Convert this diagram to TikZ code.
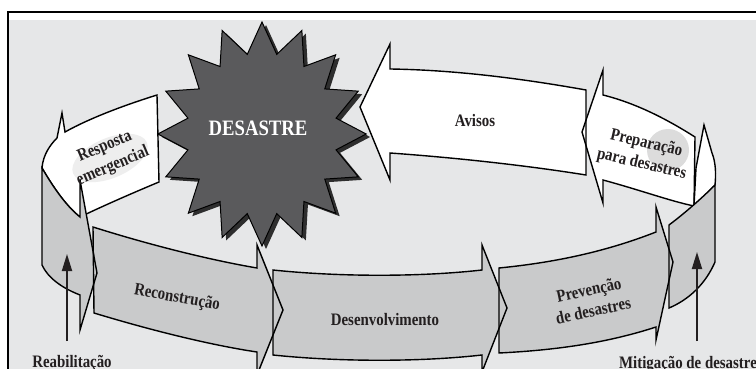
\documentclass[tikz,border=0pt]{standalone}
\usepackage{fontspec}
\setmainfont{Liberation Serif}[FakeStretch=0.85]
\usetikzlibrary{shapes.geometric,arrows.meta}
\definecolor{bgc}{HTML}{E6E7E8}
\definecolor{grayarrow}{HTML}{C9CACB}
\definecolor{starc}{HTML}{5A5A5C}
\definecolor{shadowc}{HTML}{2E2E2E}
\definecolor{txtc}{HTML}{231F20}
\definecolor{smudge}{HTML}{DCDCDC}
\definecolor{smudgeb}{HTML}{EEEEEE}
\def\PathAvisos{(586,90) .. controls (530,80) and (460,70) .. (390,69) -- (390,44) -- (360,107) -- (390,180) -- (390,153) .. controls (460,158) and (530,166) .. (586,175) -- cycle}
\def\PathPrep{(695,137) .. controls (665,118) and (635,103) .. (603,95) -- (603,70) -- (582,132) -- (603,203) -- (603,180) .. controls (640,190) and (670,201) .. (694,206) -- cycle}
\def\PathRwhite{(704,125) -- (712,153) .. controls (716,163) and (716,175) .. (715,185) .. controls (708,193) and (700,200) .. (694,206) -- (696,168) -- cycle}
\def\PathResp{(157,95) .. controls (125,105) and (90,118) .. (65,132) -- (62,113) -- (57,138) .. controls (50,145) and (43,155) .. (42,168) .. controls (52,185) and (65,205) .. (80,217) .. controls (105,205) and (135,192) .. (159,182) -- cycle}
\def\PathLgray{(42,168) .. controls (52,185) and (65,205) .. (80,217) -- (80,180) -- (97,273) -- (80,330) -- (80,295) .. controls (62,288) and (48,278) .. (42,265) -- cycle}
\def\PathRecon{(93,227) .. controls (150,245) and (210,260) .. (257,268) -- (257,245) -- (283,310) -- (257,375) -- (257,352) .. controls (210,345) and (150,330) .. (94,313) -- cycle}
\def\PathDesen{(273,270) .. controls (340,277) and (420,277) .. (482,270) -- (482,245) -- (507,308) -- (482,372) -- (482,355) .. controls (420,362) and (340,362) .. (273,355) -- cycle}
\def\PathPrev{(499,268) .. controls (560,262) and (610,250) .. (656,232) -- (656,207) -- (673,262) -- (656,340) -- (656,327) .. controls (610,342) and (560,350) .. (499,353) -- cycle}
\def\PathRgray{(669,225) .. controls (685,213) and (702,198) .. (715,185) -- (715,262) .. controls (705,285) and (688,300) .. (669,308) -- cycle}
\begin{document}
\begin{tikzpicture}[x=1pt,y=-1pt,
  outl/.style={draw=black,line width=1.4pt,line join=miter},
  lbl/.style={font=\fontsize{17.5}{21}\selectfont\bfseries,text=txtc,align=center,inner sep=0pt},
  vArrow/.style={line width=1.8pt,draw=txtc,-{Triangle[length=17pt,width=10pt]}},
  starbox/.style={star,star points=16,star point ratio=1.38,minimum size=224pt,inner sep=0pt,xscale=0.93}]
\useasboundingbox (0,0) rectangle (756,369);
% background and frame
\fill[bgc] (9,20) rectangle (756,369);
\draw[line width=1.2pt] (8,369) -- (8,12) -- (756,12);
% back band (white)
\fill[white] \PathAvisos;
\fill[white] \PathPrep;
\fill[white] \PathRwhite;
\fill[white] \PathResp;
\fill[smudge] (668,150) ellipse (21pt and 21pt);
\fill[smudgeb,rotate around={23:(110,158)}] (110,158) ellipse (40pt and 20pt);
\draw[outl] \PathAvisos;
\draw[outl] \PathPrep;
\draw[outl] \PathRwhite;
\draw[outl] \PathResp;
% star
\node[starbox,fill=shadowc] (starshadow) at (266,137) {};
\node[starbox,fill=starc,draw=black,line width=1pt] (star) at (262,134) {};
\node[lbl,text=white,font=\fontsize{22}{24}\selectfont\bfseries] (tDes) at (258,128) {DESASTRE};
% front band (gray)
\fill[grayarrow] \PathLgray;
\fill[grayarrow] \PathRecon;
\fill[grayarrow] \PathDesen;
\fill[grayarrow] \PathPrev;
\fill[grayarrow] \PathRgray;
\draw[outl] \PathLgray;
\draw[outl] \PathRecon;
\draw[outl] \PathDesen;
\draw[outl] \PathPrev;
\draw[outl] \PathRgray;
% texts in arrows
\node[lbl,rotate=23] (tResp) at (109,157) {Resposta\\emergencial};
\node[lbl] (tAvisos) at (475,121) {Avisos};
\node[lbl,rotate=-13] (tPrep) at (644,154) {Preparação\\para desastres};
\node[lbl,rotate=-10] (tRecon) at (177,298) {Reconstrução};
\node[lbl] (tDesen) at (385,320) {Desenvolvimento};
\node[lbl,rotate=12] (tPrev) at (591,300) {Prevenção\\de desastres};
% bottom labels and vertical arrows
\node[lbl,anchor=base] (tReab) at (72,367) {Reabilitação};
\node[lbl,anchor=base] (tMit) at (688,368) {Mitigação de desastre};
\coordinate (rbase) at (67,341);
\coordinate (rtip) at (67,254);
\coordinate (mbase) at (697,341);
\coordinate (mtip) at (697,252);
\draw[vArrow] (rbase) -- (rtip);
\draw[vArrow] (mbase) -- (mtip);
\end{tikzpicture}
\end{document}
